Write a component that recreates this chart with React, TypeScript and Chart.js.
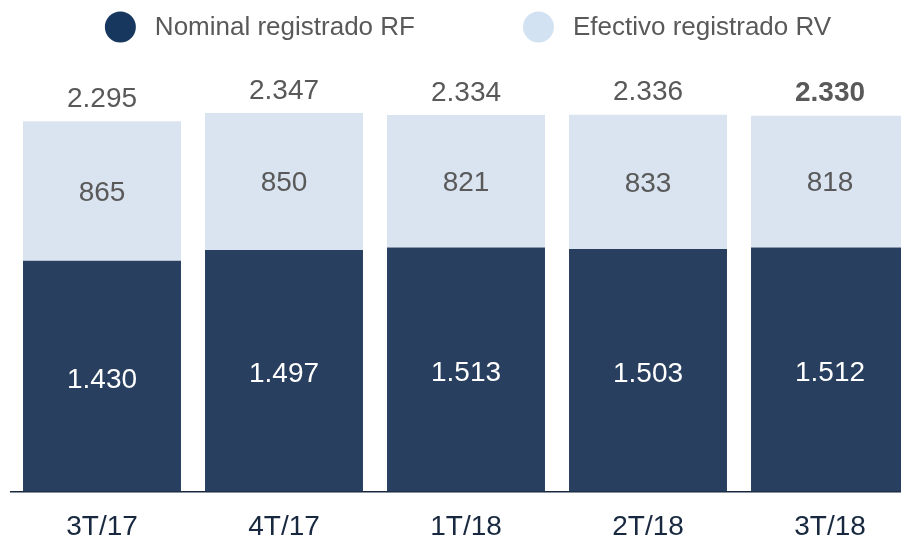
import React, { useEffect, useRef } from "react";
import { Chart, registerables } from "chart.js";

Chart.register(...registerables);

const categories = ["3T/17", "4T/17", "1T/18", "2T/18", "3T/18"];
const nominalRF = [1430, 1497, 1513, 1503, 1512];
const efectivoRV = [865, 850, 821, 833, 818];
const totals = [2295, 2347, 2334, 2336, 2330];
const seriesNames = ["Nominal registrado RF", "Efectivo registrado RV"];

const FONT = "'Liberation Sans', Arial, sans-serif";
const DARK_BAR = "#283F5F";
const LIGHT_BAR = "#DAE3F0";
const LEGEND_DARK = "#17375E";
const LEGEND_LIGHT = "#D3E2F2";
const GRAY = "#595959";
const NAVY = "#17283F";

const fmt = (v: number) => String(v).replace(/\B(?=(\d{3})+(?!\d))/g, ".");

const labelsPlugin = {
  id: "labelsPlugin",
  afterDatasetsDraw(chart: any) {
    const ctx = chart.ctx;
    ctx.save();
    ctx.textAlign = "center";
    ctx.textBaseline = "middle";
    chart.data.datasets.forEach((ds: any, di: number) => {
      const meta = chart.getDatasetMeta(di);
      meta.data.forEach((el: any, i: number) => {
        const cy = (el.y + el.base) / 2;
        ctx.font = `28px ${FONT}`;
        ctx.fillStyle = di === 0 ? "#FFFFFF" : GRAY;
        ctx.fillText(fmt(ds.data[i]), el.x, cy + (di === 0 ? 4 : 2));
      });
    });
    const top = chart.getDatasetMeta(chart.data.datasets.length - 1);
    top.data.forEach((el: any, i: number) => {
      const last = i === totals.length - 1;
      ctx.font = `${last ? "bold " : ""}28px ${FONT}`;
      ctx.fillStyle = GRAY;
      ctx.fillText(fmt(totals[i]), el.x, el.y - 22);
    });
    ctx.restore();
  },
};

const legendPlugin = {
  id: "legendPlugin",
  afterDraw(chart: any) {
    const ctx = chart.ctx;
    ctx.save();
    ctx.font = `26px ${FONT}`;
    const colors = [LEGEND_DARK, LEGEND_LIGHT];
    const dia = 31;
    const gap = 19;
    const spacing = 108;
    const widths = seriesNames.map((n) => ctx.measureText(n).width);
    const total = widths.reduce((a, b) => a + b, 0) + 2 * (dia + gap) + spacing;
    const center = (chart.chartArea.left + chart.chartArea.right) / 2 + 2;
    let x = center - total / 2;
    const y = 27;
    seriesNames.forEach((n, i) => {
      ctx.fillStyle = colors[i];
      ctx.beginPath();
      ctx.arc(x + dia / 2, y, dia / 2, 0, Math.PI * 2);
      ctx.fill();
      x += dia + gap;
      ctx.fillStyle = GRAY;
      ctx.textAlign = "left";
      ctx.textBaseline = "middle";
      ctx.fillText(n, x, y + 1);
      x += widths[i] + spacing;
    });
    ctx.restore();
  },
};

export default function App() {
  const ref = useRef<HTMLCanvasElement>(null);
  useEffect(() => {
    if (!ref.current) return;
    const chart = new Chart(ref.current, {
      type: "bar",
      data: {
        labels: categories,
        datasets: [
          {
            label: seriesNames[0],
            data: nominalRF,
            backgroundColor: DARK_BAR,
            borderWidth: 0,
            barPercentage: 0.868,
            categoryPercentage: 1,
          },
          {
            label: seriesNames[1],
            data: efectivoRV,
            backgroundColor: LIGHT_BAR,
            borderWidth: 0,
            barPercentage: 0.868,
            categoryPercentage: 1,
          },
        ],
      },
      options: {
        responsive: false,
        animation: false,
        events: [],
        devicePixelRatio: 1,
        layout: { padding: { left: 11, right: 19, top: 56, bottom: 0 } },
        plugins: { legend: { display: false }, tooltip: { enabled: false } },
        scales: {
          x: {
            stacked: true,
            grid: { display: false, drawTicks: false },
            border: { display: true, color: NAVY, width: 1.5 },
            ticks: {
              color: NAVY,
              font: { family: FONT, size: 28 },
              padding: 19,
              maxRotation: 0,
            },
          },
          y: {
            stacked: true,
            display: false,
            min: 0,
            max: 2700,
          },
        },
      },
      plugins: [labelsPlugin, legendPlugin],
    });
    return () => chart.destroy();
  }, []);
  return (
    <div
      style={{
        position: "fixed",
        left: 0,
        top: 0,
        width: 901,
        height: 537,
        overflow: "hidden",
        background: "#fff",
      }}
    >
      <canvas
        ref={ref}
        width={940}
        height={563}
        style={{ position: "absolute", left: 0, top: 0, width: 940, height: 563 }}
      />
    </div>
  );
}
